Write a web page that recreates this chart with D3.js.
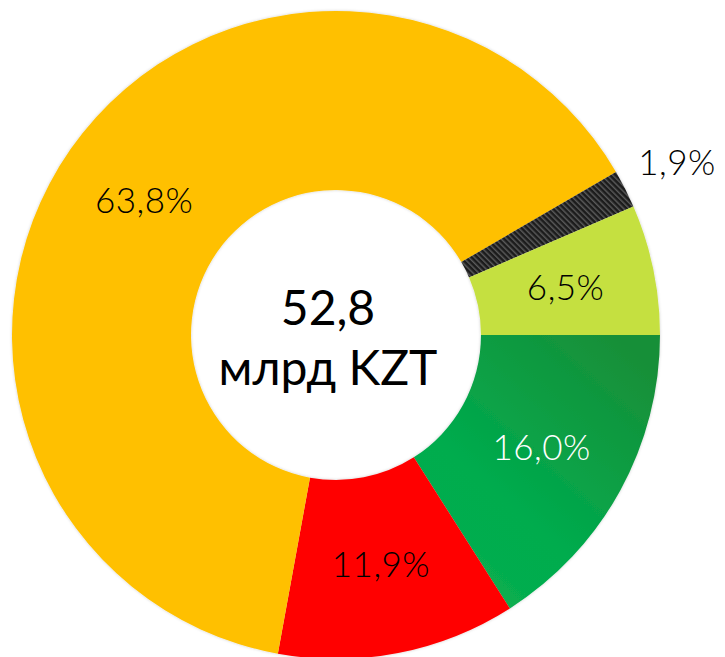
<!DOCTYPE html>
<html>
<head>
<meta charset="utf-8">
<script src="https://cdn.jsdelivr.net/npm/d3@7"></script>
<style>
  body { margin: 0; background: #fff; }
  svg { display: block; }
  text { font-family: Lato, "Open Sans", sans-serif; }
</style>
</head>
<body>
<svg id="chart" width="725" height="657"></svg>
<script>
// slices, clockwise from 3 o'clock
const categories = ["green", "red", "yellow", "black", "lightgreen"];
const shares = [16.0, 11.9, 63.8, 1.9, 6.5];
const labels = ["16,0%", "11,9%", "63,8%", "1,9%", "6,5%"];
const totalLabel = ["52,8", "млрд KZT"];

const colors = {
    green: "url(#greenGrad)",
    red: "#FF0000",
    yellow: "#FFC000",
    black: "url(#hatch)",
    lightgreen: "#C5E040"
};
const labelColor = { green: "#fff" };

let svg = d3.select("#chart");
let cx = 336, cy = 335;
let outerR = 324, innerR = 145;

let defs = svg.append("defs");

let grad = defs.append("linearGradient")
    .attr("id", "greenGrad")
    .attr("gradientUnits", "userSpaceOnUse")
    .attr("x1", cx + 320).attr("y1", cy)
    .attr("x2", cx + 80).attr("y2", cy + 270);
grad.append("stop").attr("offset", "0%").attr("stop-color", "#178F38");
grad.append("stop").attr("offset", "55%").attr("stop-color", "#00AC4E");
grad.append("stop").attr("offset", "80%").attr("stop-color", "#0AAE4F");
grad.append("stop").attr("offset", "100%").attr("stop-color", "#62C85A");

let hatch = defs.append("pattern")
    .attr("id", "hatch")
    .attr("patternUnits", "userSpaceOnUse")
    .attr("width", 4).attr("height", 4)
    .attr("patternTransform", "rotate(-45)");
hatch.append("rect").attr("width", 4).attr("height", 4).attr("fill", "#1a1a1a");
hatch.append("rect").attr("width", 1.5).attr("height", 4).attr("fill", "#5a5a5a");

let shadow = defs.append("filter").attr("id", "shadow")
    .attr("x", "-10%").attr("y", "-10%").attr("width", "120%").attr("height", "120%");
shadow.append("feDropShadow")
    .attr("dx", 0).attr("dy", 0).attr("stdDeviation", 1.5)
    .attr("flood-color", "#000").attr("flood-opacity", 0.2);

let pie = d3.pie()
    .sort(null)
    .value(d => d)
    .startAngle(Math.PI / 2)
    .endAngle(Math.PI / 2 + 2 * Math.PI);

let arc = d3.arc().innerRadius(innerR).outerRadius(outerR);
let labelArc = d3.arc().innerRadius(outerR + 58).outerRadius(outerR + 58);

let g = svg.append("g").attr("transform", "translate(" + cx + "," + cy + ")");
let arcs = pie(shares);

g.append("g")
    .attr("filter", "url(#shadow)")
    .selectAll("path")
    .data(arcs)
    .enter()
    .append("path")
    .attr("d", arc)
    .attr("fill", (d, i) => colors[categories[i]]);

g.selectAll("text.lbl")
    .data(arcs)
    .enter()
    .append("text")
    .attr("class", "lbl")
    .attr("transform", (d, i) => {
        // the thin black slice gets its label outside the ring
        let p = categories[i] === "black" ? labelArc.centroid(d) : arc.centroid(d);
        return "translate(" + p[0] + "," + p[1] + ")";
    })
    .attr("text-anchor", "middle")
    .attr("dy", "0.35em")
    .style("font-size", "35px")
    .style("font-weight", 300)
    .style("letter-spacing", "0.5px")
    .attr("fill", (d, i) => labelColor[categories[i]] || "#000")
    .text((d, i) => labels[i]);

g.append("text")
    .attr("text-anchor", "middle")
    .attr("x", -8).attr("y", -10)
    .style("font-size", "48px")
    .text(totalLabel[0]);

g.append("text")
    .attr("text-anchor", "middle")
    .attr("x", -8).attr("y", 50)
    .style("font-size", "48px")
    .text(totalLabel[1]);
</script>
</body>
</html>
